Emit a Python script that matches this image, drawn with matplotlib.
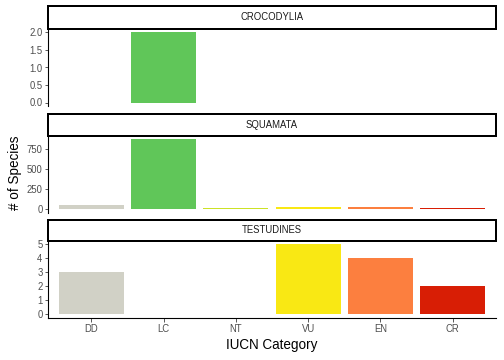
import numpy as np
import matplotlib
matplotlib.use("Agg")
import matplotlib.pyplot as plt

plt.rcParams['font.family'] = ['Liberation Sans', 'DejaVu Sans']

# --- data ---
categories = ["DD", "LC", "NT", "VU", "EN", "CR"]
iucn_colors = ["#D1D1C6", "#60C659", "#CCE226", "#F9E814", "#FC7F3F", "#D81E05"]
orders = ["CROCODYLIA", "SQUAMATA", "TESTUDINES"]

crocodylia = [np.nan, 2, np.nan, np.nan, np.nan, np.nan]
squamata = [45, 875, 10, 22, 25, 8]
testudines = [3, np.nan, np.nan, 5, 4, 2]
values = [crocodylia, squamata, testudines]

yticks = [[0, 0.5, 1.0, 1.5, 2.0], [0, 250, 500, 750], [0, 1, 2, 3, 4, 5]]
yfmt = ["{:.1f}", "{:d}", "{:d}"]

# pixel layout (top-origin) of each facet: strip top, strip bottom, panel bottom
W, H = 504, 360
left, right = 48, 496
rows = [(6, 29, 106), (114, 135.5, 212.5), (220, 240.7, 318)]

fig = plt.figure(figsize=(W / 72, H / 72), dpi=72)

x = np.arange(len(categories))
tick_col = "#4D4D4D"

for i, (order, vals) in enumerate(zip(orders, values)):
    s_top, s_bot, p_bot = rows[i]
    ax = fig.add_axes([left / W, 1 - p_bot / H, (right - left) / W, (p_bot - s_bot) / H])
    v = np.array(vals, dtype=float)
    mask = ~np.isnan(v)
    ax.bar(x[mask], v[mask], width=0.9,
           color=[c for c, m in zip(iucn_colors, mask) if m])
    vmax = np.nanmax(v)
    ax.set_ylim(-0.05 * vmax, 1.05 * vmax)
    ax.set_xlim(-0.6, len(categories) - 0.4)
    ax.set_yticks(yticks[i])
    ax.set_yticklabels([yfmt[i].format(t) for t in yticks[i]])
    for sp in ["top", "right"]:
        ax.spines[sp].set_visible(False)
    ax.spines["left"].set_linewidth(1.1)
    ax.spines["left"].set_color("black")
    ax.tick_params(axis="y", length=3.5, width=0.8, color="#333333",
                   labelsize=9.5, labelcolor=tick_col, pad=2)
    if i == len(orders) - 1:
        ax.spines["bottom"].set_linewidth(1.1)
        ax.set_xticks(x)
        ax.set_xticklabels(categories)
        ax.tick_params(axis="x", length=3.5, width=0.8, color="#333333",
                       labelsize=9.5, labelcolor=tick_col, pad=3)
        ax.set_xlabel("IUCN Category", fontsize=13.5, labelpad=3)
    else:
        ax.spines["bottom"].set_visible(False)
        ax.set_xticks([])

    # strip
    sx = fig.add_axes([left / W, 1 - s_bot / H, (right - left) / W, (s_bot - s_top) / H])
    sx.set_xticks([])
    sx.set_yticks([])
    for sp in sx.spines.values():
        sp.set_linewidth(2)
        sp.set_color("black")
    sx.text(0.5, 0.5, order, ha="center", va="center", fontsize=9.5,
            color="#1A1A1A", transform=sx.transAxes)

fig.text(15 / W, 1 - 173 / H, "# of Species", rotation=90, ha="center",
         va="center", fontsize=13.5)

fig.savefig("out.png", dpi=72)
